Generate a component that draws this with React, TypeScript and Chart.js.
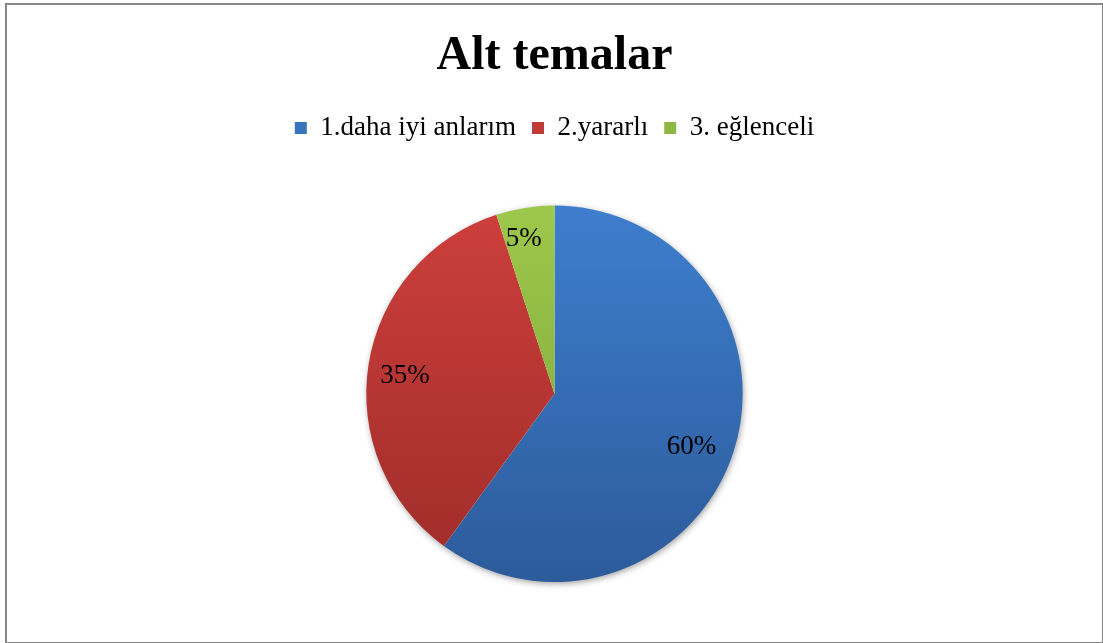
import React, { useEffect, useRef } from "react";
import { Chart, registerables } from "chart.js";

Chart.register(...registerables);

const titleText = "Alt temalar";
const categories = ["1.daha iyi anlarım", "2.yararlı", "3. eğlenceli"];
const values = [60, 35, 5];
const topColors = ["#3E7ECD", "#CD3F3C", "#9DC84B"];
const bottomColors = ["#2C5B9B", "#9E2C29", "#78A138"];
const legendColors = ["#3A74BD", "#C03A37", "#8FB843"];

const FONT = "'Liberation Serif', 'Times New Roman', serif";

const legendSpacePlugin = {
  id: "legendSpace",
  afterInit(chart: any) {
    const legend = chart.legend;
    if (!legend) return;
    const orig = legend.fit;
    legend.fit = function () {
      orig.call(this);
      this.height += 54;
    };
  },
};

const shadowPlugin = {
  id: "pieShadow",
  beforeDatasetsDraw(chart: any) {
    const meta = chart.getDatasetMeta(0);
    const arc = meta.data[0];
    if (!arc) return;
    const { x, y, outerRadius } = arc.getProps(["x", "y", "outerRadius"], true);
    const ctx = chart.ctx;
    ctx.save();
    ctx.shadowColor = "rgba(0,0,0,0.45)";
    ctx.shadowBlur = 7;
    ctx.shadowOffsetX = 1;
    ctx.shadowOffsetY = 2;
    ctx.fillStyle = "#ffffff";
    ctx.beginPath();
    ctx.arc(x, y, outerRadius - 1, 0, Math.PI * 2);
    ctx.fill();
    ctx.restore();
  },
};

const labelPlugin = {
  id: "sliceLabels",
  afterDatasetsDraw(chart: any) {
    const meta = chart.getDatasetMeta(0);
    const ctx = chart.ctx;
    const total = values.reduce((a, b) => a + b, 0);
    const factors = [0.78, 0.8, 0.84];
    const angleShift = [3, -2.2, -2.2];
    ctx.save();
    ctx.font = `27px ${FONT}`;
    ctx.fillStyle = "#000000";
    ctx.textAlign = "center";
    ctx.textBaseline = "middle";
    meta.data.forEach((arc: any, i: number) => {
      const { x, y, startAngle, endAngle, outerRadius } = arc.getProps(
        ["x", "y", "startAngle", "endAngle", "outerRadius"],
        true
      );
      const mid = (startAngle + endAngle) / 2 + (angleShift[i] * Math.PI) / 180;
      const r = outerRadius * factors[i];
      const pct = Math.round((values[i] / total) * 100) + "%";
      ctx.fillText(pct, x + Math.cos(mid) * r, y + Math.sin(mid) * r);
    });
    ctx.restore();
  },
};

export default function App() {
  const ref = useRef<HTMLCanvasElement | null>(null);

  useEffect(() => {
    if (!ref.current) return;
    const chart = new Chart(ref.current, {
      type: "pie",
      data: {
        labels: categories,
        datasets: [
          {
            data: values,
            borderWidth: 0,
            backgroundColor: (c: any) => {
              const ch = c.chart;
              const area = ch.chartArea;
              const i = c.dataIndex;
              if (!area) return topColors[i];
              const g = ch.ctx.createLinearGradient(0, area.top, 0, area.bottom);
              g.addColorStop(0, topColors[i]);
              g.addColorStop(1, bottomColors[i]);
              return g;
            },
          },
        ],
      },
      options: {
        animation: false,
        responsive: false,
        maintainAspectRatio: false,
        layout: { padding: { left: 6, right: 0, top: 0, bottom: 61 } },
        plugins: {
          tooltip: { enabled: false },
          title: {
            display: true,
            text: titleText,
            color: "#000000",
            font: { family: FONT, size: 48, weight: "bold" },
            padding: { top: 28, bottom: 13 },
          },
          legend: {
            position: "top",
            labels: {
              color: "#000000",
              font: { family: FONT, size: 27 },
              boxWidth: 12,
              boxHeight: 12,
              padding: 16,
              generateLabels: () =>
                categories.map((t, i) => ({
                  text: t,
                  fillStyle: legendColors[i],
                  strokeStyle: legendColors[i],
                  lineWidth: 0,
                  hidden: false,
                  index: i,
                  datasetIndex: 0,
                })),
            },
          },
        },
      } as any,
      plugins: [legendSpacePlugin, shadowPlugin, labelPlugin],
    });
    return () => chart.destroy();
  }, []);

  return (
    <div
      style={{
        position: "absolute",
        left: 0,
        top: 0,
        width: 1103,
        height: 643,
        background: "#ffffff",
      }}
    >
      <div
        style={{
          position: "absolute",
          left: 5,
          top: 3,
          width: 1095,
          height: 637,
          border: "2px solid #878787",
        }}
      />
      <canvas
        ref={ref}
        width={1103}
        height={643}
        style={{ position: "absolute", left: 0, top: 0, width: 1103, height: 643 }}
      />
    </div>
  );
}
